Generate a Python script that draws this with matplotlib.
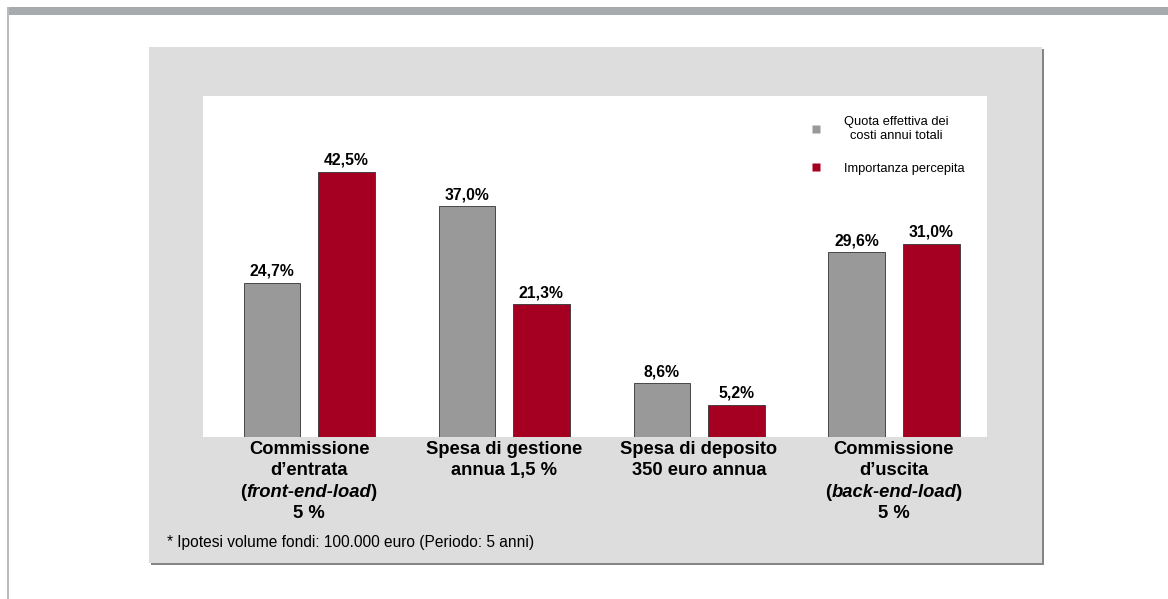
import numpy as np
import matplotlib.pyplot as plt
from matplotlib.patches import Rectangle
from matplotlib.lines import Line2D
from matplotlib.offsetbox import TextArea, HPacker, VPacker, AnnotationBbox

plt.rcParams['font.family'] = ['Liberation Sans', 'DejaVu Sans']

# Data
categories = ["Commissione\nd\u2019entrata",
              "Spesa di gestione\nannua 1,5 %",
              "Spesa di deposito\n350 euro annua",
              "Commissione\nd\u2019uscita"]
italic_parts = ["front-end-load", None, None, "back-end-load"]
last_lines = ["5 %", None, None, "5 %"]
quota_effettiva = [24.7, 37.0, 8.6, 29.6]
importanza_percepita = [42.5, 21.3, 5.2, 31.0]
series_names = ["Quota effettiva dei\ncosti annui totali", "Importanza percepita"]
footnote = "* Ipotesi volume fondi: 100.000 euro (Periodo: 5 anni)"

colors = ["#999999", "#A50021"]

W, H = 1168, 599
fig = plt.figure(figsize=(W / 100, H / 100), dpi=100)
fig.patch.set_facecolor("white")

def px_rect(x0, y0, x1, y1, color):
    # pixel coords measured from the top-left corner
    fig.patches.append(Rectangle((x0 / W, 1 - y1 / H), (x1 - x0) / W, (y1 - y0) / H,
                                 transform=fig.transFigure, facecolor=color,
                                 edgecolor="none", zorder=-5))

# outer frame
px_rect(7, 7, W, 15, "#A8ABAE")
px_rect(7, 7, 9, H, "#B9BCBF")
# grey panel with shadow
px_rect(151, 49, 1044, 565, "#858585")
px_rect(149, 47, 1042, 563, "#DDDDDD")

# plot area
x0, x1, ytop, ybase = 203, 987, 96, 437
ax = fig.add_axes([x0 / W, 1 - ybase / H, (x1 - x0) / W, (ybase - ytop) / H])
ax.set_facecolor("white")
for s in ax.spines.values():
    s.set_visible(False)

x = np.arange(len(categories))
width = 0.292
offset = 0.19
b1 = ax.bar(x - offset, quota_effettiva, width, color=colors[0], edgecolor="#333333", linewidth=0.6)
b2 = ax.bar(x + offset, importanza_percepita, width, color=colors[1], edgecolor="#333333", linewidth=0.6)

fmt = lambda vals: [f"{v:.1f}%".replace(".", ",") for v in vals]
ax.bar_label(b1, labels=fmt(quota_effettiva), padding=3, fontsize=11.3, fontweight="bold")
ax.bar_label(b2, labels=fmt(importanza_percepita), padding=3, fontsize=11.3, fontweight="bold")

ax.set_xlim(-0.544, 3.477)
ax.set_ylim(0, 54.7)
ax.set_yticks([])
ax.set_xticks(x)
ax.set_xticklabels(categories, fontsize=13.2, fontweight="bold", linespacing=1.32)
ax.tick_params(axis="x", length=0, pad=3)

# extra label lines (mixed bold / bold italic)
bold = dict(fontsize=13.2, fontweight="bold")
for i, part in enumerate(italic_parts):
    if part is None:
        continue
    line3 = HPacker(children=[TextArea("(", textprops=bold),
                              TextArea(part, textprops=dict(bold, style="italic")),
                              TextArea(")", textprops=bold)],
                    pad=0, sep=0, align="baseline")
    line4 = TextArea(last_lines[i], textprops=bold)
    box = VPacker(children=[line3, line4], pad=0, sep=3, align="center")
    ab = AnnotationBbox(box, (x[i], -(484 - ybase) / (ybase - ytop)),
                        xycoords=ax.get_xaxis_transform(), frameon=False,
                        box_alignment=(0.5, 1.0), pad=0, annotation_clip=False)
    ax.add_artist(ab)

# legend
handles = [Line2D([0], [0], marker="s", color="none", markerfacecolor=c,
                  markeredgecolor="none", markersize=6) for c in colors]
leg = ax.legend(handles, series_names, loc="upper left",
                bbox_to_anchor=((803 - x0) / (x1 - x0), 1 - (110 - ytop) / (ybase - ytop)),
                frameon=False, fontsize=9.3, borderpad=0, handlelength=1.0,
                handletextpad=1.7, labelspacing=1.6)
for t in leg.get_texts():
    t.set_multialignment("center")

fig.text(167 / W, 1 - 542 / H, footnote, fontsize=11.2, va="center", ha="left")

plt.savefig("out.png", dpi=100)
